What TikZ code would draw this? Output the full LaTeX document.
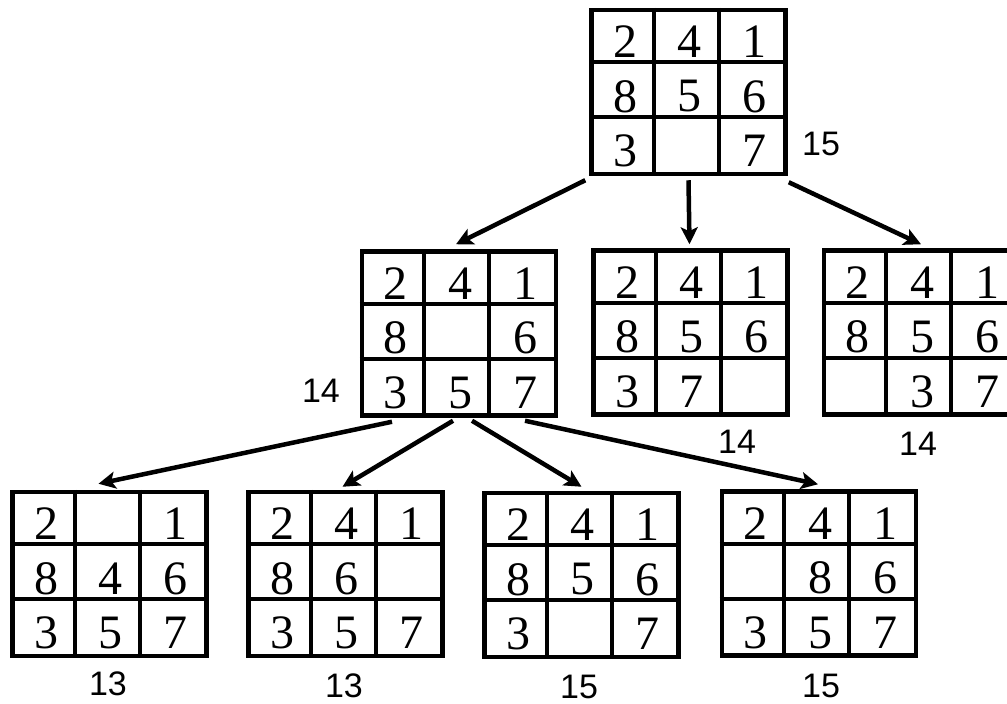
\documentclass[tikz,border=0pt]{standalone}
\usepackage{fontspec}
\setmainfont{Liberation Serif}
\newfontfamily\labelfont{Liberation Sans}
\usepackage{tikz}
\usetikzlibrary{arrows.meta,positioning,calc}

% one 3x3 board: name, centre, nine entries (row by row)
\newcommand{\board}[3]{%
  \node[board] (#1) at (#2) {};
  \foreach \k in {1,2} {
    \draw[cellline] ($(#1.north west)+(\k*64.67,0)$) -- ($(#1.south west)+(\k*64.67,0)$);
    \draw[cellline] ($(#1.north west)+(0,\k*54.67)$) -- ($(#1.north east)+(0,\k*54.67)$);
  }
  \foreach \v [count=\i from 0] in {#3} {
    \pgfmathtruncatemacro\c{mod(\i,3)}
    \pgfmathtruncatemacro\r{div(\i,3)}
    \node[tile] at ($(#1.north west)+(\c*64.67+36,\r*54.67+34)$) {\v};
  }
}

\begin{document}
\begin{tikzpicture}[
    x=1pt, y=-1pt,
    board/.style={rectangle, draw=black, line width=4.5pt, minimum width=194pt, minimum height=164pt, inner sep=0pt},
    cellline/.style={line width=4pt},
    tile/.style={inner sep=0pt, font=\fontsize{48}{48}\selectfont},
    cost/.style={inner sep=0pt, font=\labelfont\fontsize{34}{34}\selectfont},
    arrow/.style={-{Stealth[length=17pt,width=17pt,inset=4pt]}, line width=4.5pt},
]
\useasboundingbox (0,0) rectangle (1007,704);
\clip (0,0) rectangle (1007,704);

% Start state
\board{root}{688.5,92}{2,4,1,8,5,6,3,{},7}
\node[cost] (croot) at (821,144) {15};

% Second level
\board{left}{459,333.5}{2,4,1,8,{},6,3,5,7}
\board{mid}{690.5,332.5}{2,4,1,8,5,6,3,7,{}}
\board{right}{921,332.5}{2,4,1,8,5,6,{},3,7}
\node[cost] (cleft) at (321,391) {14};
\node[cost] (cmid) at (737,442) {14};
\node[cost] (cright) at (918,444) {14};

\draw[arrow] ([shift={(-4,4)}]root.south west) -- ([shift={(-3,-5)}]left.north);
\draw[arrow] ([shift={(0,4)}]root.south) -- ([shift={(-1,-4)}]mid.north);
\draw[arrow] ([shift={(1,6)}]root.south east) -- ([shift={(0,-4)}]right.north);

% Third level
\board{dA}{109.5,574}{2,{},1,8,4,6,3,5,7}
\board{dB}{345.5,574}{2,4,1,8,6,{},3,5,7}
\board{dC}{581.5,575}{2,4,1,8,5,6,3,{},7}
\board{dD}{819,573.5}{2,4,1,{},8,6,3,5,7}
\node[cost] (cA) at (108,684) {13};
\node[cost] (cB) at (344,686) {13};
\node[cost] (cC) at (579,687) {15};
\node[cost] (cD) at (821,686) {15};

\draw[arrow] ([shift={(-67,4)}]left.south) -- ([shift={(-11,-6)}]dA.north);
\draw[arrow] ([shift={(-6,3)}]left.south) -- ([shift={(-3,-3)}]dB.north);
\draw[arrow] ([shift={(13,3)}]left.south) -- ([shift={(0,-4)}]dC.north);
\draw[arrow] ([shift={(66,3)}]left.south) -- ([shift={(-1,-5)}]dD.north);
\end{tikzpicture}
\end{document}
